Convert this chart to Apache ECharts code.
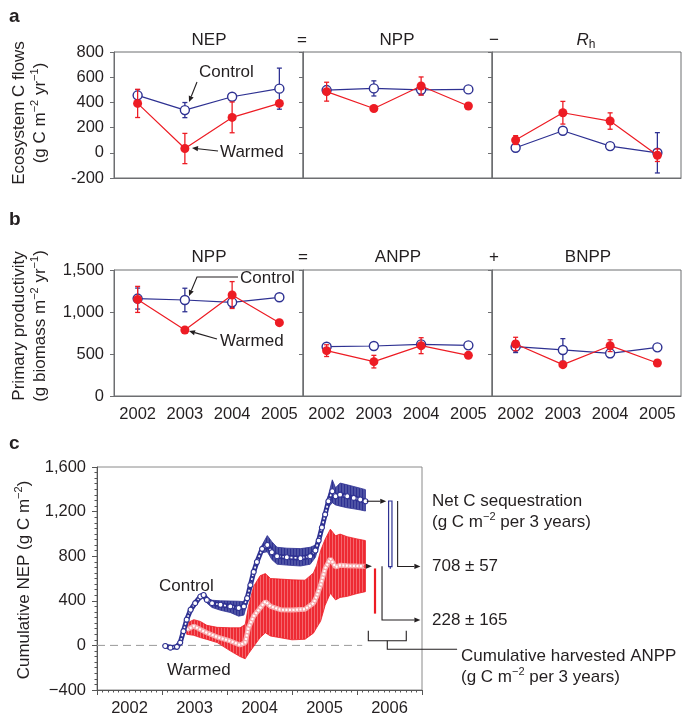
<!DOCTYPE html>
<html>
<head>
<meta charset="utf-8">
<title>Warming and ecosystem carbon</title>
<script src="https://cdn.jsdelivr.net/npm/echarts@6/dist/echarts.min.js"></script>
<style>
  html, body { margin: 0; padding: 0; background: #fff; }
  #chart { width: 694px; height: 717px; }
</style>
</head>
<body>
<div id="chart"></div>
<script>
// ---- data: panels a and b (annual values, control vs warmed) ----
var years = ['2002', '2003', '2004', '2005'];

var nepCtrl = [456, 339, 445, 509], nepCtrlErr = [45, 60, 0, 163];
var nepWarm = [392, 34, 281, 392], nepWarmErr = [112, 120, 122, 20];
var nppCtrl = [498, 511, 500, 503], nppCtrlErr = [30, 60, 40, 0];
var nppWarm = [485, 352, 530, 371], nppWarmErr = [75, 0, 72, 0];
var rhCtrl = [40, 175, 53, 0], rhCtrlErr = [28, 0, 0, 160];
var rhWarm = [101, 318, 252, -19], rhWarmErr = [35, 90, 65, 50];

var nppBCtrl = [1160, 1143, 1115, 1175], nppBCtrlErr = [125, 140, 60, 0];
var nppBWarm = [1150, 786, 1202, 873], nppBWarmErr = [155, 0, 160, 0];
var anppCtrl = [587, 595, 615, 603], anppCtrlErr = [15, 0, 20, 0];
var anppWarm = [540, 409, 599, 484], anppWarmErr = [70, 75, 95, 0];
var bnppCtrl = [587, 548, 508, 579], bnppCtrlErr = [70, 135, 50, 0];
var bnppWarm = [619, 373, 599, 393], bnppWarmErr = [80, 0, 70, 0];

// ---- data: panel c (cumulative NEP, g C m-2) ----
var cYears = ['2002', '2003', '2004', '2005', '2006'];

var ctrlT = [2003.05, 2003.13, 2003.23, 2003.28, 2003.33, 2003.38, 2003.44, 2003.51, 2003.59, 2003.64,
             2003.69, 2003.77, 2003.90, 2004.05, 2004.18, 2004.26, 2004.31, 2004.36, 2004.41, 2004.46,
             2004.54, 2004.62, 2004.69, 2004.77, 2004.92, 2005.13, 2005.28, 2005.36, 2005.41, 2005.46,
             2005.51, 2005.56, 2005.62, 2005.67, 2005.74, 2005.85, 2005.95, 2006.05, 2006.13];
var ctrlV  = [-5, -20, -13, 25, 128, 231, 320, 379, 438, 452,
              408, 379, 364, 350, 335, 350, 423, 541, 659, 748,
              866, 901, 836, 800, 791, 782, 800, 851, 940, 1057,
              1175, 1293, 1382, 1337, 1352, 1337, 1323, 1308, 1293];
var ctrlHi = [null, null, null, 35, 140, 245, 338, 398, 458, 470,
              428, 405, 400, 398, 396, 392, 440, 560, 680, 770,
              900, 985, 930, 880, 872, 868, 880, 900, 985, 1100,
              1220, 1345, 1485, 1414, 1456, 1440, 1425, 1410, 1397];
var ctrlLo = [null, null, null, 15, 115, 215, 300, 355, 415, 430,
              380, 340, 315, 295, 262, 272, 380, 520, 640, 725,
              830, 840, 770, 728, 720, 712, 728, 790, 890, 1010,
              1130, 1240, 1280, 1260, 1249, 1234, 1225, 1215, 1205];

var warmT  = [2003.38, 2003.49, 2003.59, 2003.69, 2003.85, 2004.05, 2004.20, 2004.28, 2004.33, 2004.41,
              2004.51, 2004.59, 2004.67, 2004.82, 2005.00, 2005.20, 2005.33, 2005.38, 2005.44, 2005.51,
              2005.59, 2005.67, 2005.74, 2005.85, 2006.00, 2006.13];
var warmV  = [140, 173, 142, 113, 75, 40, 4, 25, 157, 261,
              335, 394, 350, 320, 318, 325, 379, 440, 541, 689,
              777, 703, 718, 715, 712, 710];
var warmHi = [200, 231, 215, 180, 162, 158, 158, 187, 350, 530,
              625, 644, 600, 595, 588, 585, 650, 718, 850, 953,
              1042, 983, 998, 975, 955, 940];
var warmLo = [100, 90, 70, 54, 25, -49, -100, -120, -75, -10,
              70, 113, 84, 69, 50, 55, 110, 160, 217, 360,
              467, 408, 430, 440, 465, 482];

// harvested ANPP bars (top, bottom) and resulting net sequestration
var harvestCtrl = [1295, 706];
var harvestWarm = [690, 285];
var netSeq = [708, 228];

// ---- styles ----
var BLUE = '#2e3192', RED = '#ed1c24', INK = '#231f20', AXIS = '#6d6e71';
var FONT = '"Liberation Sans", Arial, Helvetica, sans-serif';

function stripes(c1, c2, w1, w2) {
  var cv = document.createElement('canvas');
  cv.width = w1 + w2; cv.height = 4;
  var ctx = cv.getContext('2d');
  ctx.fillStyle = c1; ctx.fillRect(0, 0, w1, 4);
  ctx.fillStyle = c2; ctx.fillRect(w1, 0, w2, 4);
  return cv;
}
var bluePat = stripes('#4d52a4', '#2e3192', 2, 1);
var redPat = stripes('#ee2a33', '#f4676d', 2, 1);

function arrowEls(pts, color, dash) {
  var n = pts.length, a = pts[n - 2], b = pts[n - 1];
  var ang = Math.atan2(b[1] - a[1], b[0] - a[0]), L = 6, W = 2.6;
  var bx = b[0] - L * Math.cos(ang), by = b[1] - L * Math.sin(ang);
  var line = pts.slice(0, n - 1).concat([[bx, by]]);
  return [
    { type: 'polyline', shape: { points: line }, style: { stroke: color, lineWidth: 1.1, fill: 'none', lineDash: dash || null } },
    { type: 'polygon', shape: { points: [b, [bx + W * Math.sin(ang), by - W * Math.cos(ang)], [bx - W * Math.sin(ang), by + W * Math.cos(ang)]] },
      style: { fill: color } }
  ];
}

// ---- grids and axes ----
var grids = [], xAxes = [], yAxes = [], series = [];
var lefts = [114, 303, 492];
[52, 270].forEach(function (top, row) {
  lefts.forEach(function (left, col) {
    grids.push({ left: left, top: top, width: 189, height: 126, show: true, borderColor: AXIS, borderWidth: 1 });
    var gi = grids.length - 1;
    xAxes.push({
      type: 'category', gridIndex: gi, data: years, boundaryGap: true,
      axisLine: { onZero: false, lineStyle: { color: AXIS } },
      axisTick: { alignWithLabel: true, length: 4, lineStyle: { color: AXIS } },
      axisLabel: { show: row === 1, interval: 0, margin: 10, fontSize: 16.5, color: INK, fontFamily: FONT },
      splitLine: { show: false }
    });
    yAxes.push({
      type: 'value', gridIndex: gi,
      min: row === 0 ? -200 : 0, max: row === 0 ? 800 : 1500, interval: row === 0 ? 200 : 500,
      axisLine: { show: true, onZero: false, lineStyle: { color: AXIS } },
      axisTick: { show: true, length: 4, lineStyle: { color: AXIS } },
      axisLabel: {
        show: col === 0, margin: 10, fontSize: 16.5, color: INK, fontFamily: FONT,
        formatter: function (v) { return v.toLocaleString('en-US'); }
      },
      splitLine: { show: false }
    });
  });
});

// panel c
grids.push({ left: 97, top: 467, width: 325, height: 226, show: true, borderColor: '#8a8a8a', borderWidth: 1 });
xAxes.push({
  type: 'value', gridIndex: 6, min: 2002, max: 2007, interval: 1, position: 'bottom',
  axisLine: { onZero: false, lineStyle: { color: '#555' } },
  axisTick: { length: 5, lineStyle: { color: '#555' } },
  minorTick: { show: true, splitNumber: 12, length: 2.5, lineStyle: { color: '#555' } },
  axisLabel: { show: false }, splitLine: { show: false }
});
xAxes.push({
  type: 'category', gridIndex: 6, data: cYears, boundaryGap: true, position: 'bottom', offset: 0,
  axisLine: { show: false, onZero: false }, axisTick: { show: false },
  axisLabel: { interval: 0, margin: 10, fontSize: 16.5, color: INK, fontFamily: FONT }
});
yAxes.push({
  type: 'value', gridIndex: 6, min: -400, max: 1600, interval: 400,
  axisLine: { show: true, onZero: false, lineStyle: { color: '#555' } },
  axisTick: { length: 5, lineStyle: { color: '#555' } },
  minorTick: { show: true, splitNumber: 8, length: 2.5, lineStyle: { color: '#555' } },
  axisLabel: {
    margin: 11, fontSize: 16.5, color: INK, fontFamily: FONT,
    formatter: function (v) { return v < 0 ? '\u2212' + Math.abs(v) : v.toLocaleString('en-US'); }
  },
  splitLine: { show: false }
});

// ---- series for panels a and b ----
function errSeries(ai, vals, errs, color, z) {
  var d = [];
  vals.forEach(function (v, i) { if (errs[i] > 0) d.push([i, v - errs[i], v + errs[i]]); });
  return {
    type: 'custom', xAxisIndex: ai, yAxisIndex: ai, z: z, data: d, encode: { x: 0, y: [1, 2] },
    renderItem: function (params, api) {
      var lo = api.coord([api.value(0), api.value(1)]);
      var hi = api.coord([api.value(0), api.value(2)]);
      var w = 2.5;
      function st() { return { stroke: color, lineWidth: 1.3 }; }
      return {
        type: 'group', children: [
          { type: 'line', shape: { x1: lo[0], y1: lo[1], x2: hi[0], y2: hi[1] }, style: st() },
          { type: 'line', shape: { x1: lo[0] - w, y1: lo[1], x2: lo[0] + w, y2: lo[1] }, style: st() },
          { type: 'line', shape: { x1: hi[0] - w, y1: hi[1], x2: hi[0] + w, y2: hi[1] }, style: st() }
        ]
      };
    }
  };
}
function panel(ai, ctrl, ctrlErr, warm, warmErr) {
  series.push(errSeries(ai, ctrl, ctrlErr, BLUE, 2));
  series.push({
    type: 'line', xAxisIndex: ai, yAxisIndex: ai, data: ctrl, z: 3,
    symbol: 'circle', symbolSize: 9, showAllSymbol: true,
    itemStyle: { color: '#fff', borderColor: BLUE, borderWidth: 1.4 },
    lineStyle: { color: BLUE, width: 1.2 }
  });
  series.push(errSeries(ai, warm, warmErr, RED, 4));
  series.push({
    type: 'line', xAxisIndex: ai, yAxisIndex: ai, data: warm, z: 5,
    symbol: 'circle', symbolSize: 9, showAllSymbol: true,
    itemStyle: { color: RED },
    lineStyle: { color: RED, width: 1.2 }
  });
}
panel(0, nepCtrl, nepCtrlErr, nepWarm, nepWarmErr);
panel(1, nppCtrl, nppCtrlErr, nppWarm, nppWarmErr);
panel(2, rhCtrl, rhCtrlErr, rhWarm, rhWarmErr);
panel(3, nppBCtrl, nppBCtrlErr, nppBWarm, nppBWarmErr);
panel(4, anppCtrl, anppCtrlErr, anppWarm, anppWarmErr);
panel(5, bnppCtrl, bnppCtrlErr, bnppWarm, bnppWarmErr);

// ---- series for panel c ----
function bandSeries(T, hi, lo, pat, edge, z) {
  return {
    type: 'custom', xAxisIndex: 6, yAxisIndex: 6, z: z, data: [[2004, 500]],
    renderItem: function (params, api) {
      var up = [], dn = [];
      T.forEach(function (t, i) {
        if (hi[i] != null) { up.push(api.coord([t, hi[i]])); dn.push(api.coord([t, lo[i]])); }
      });
      return {
        type: 'polygon', shape: { points: up.concat(dn.reverse()) },
        style: { fill: { image: pat, repeat: 'repeat' }, stroke: edge, lineWidth: 0.8 }
      };
    }
  };
}
var ctrlData = ctrlT.map(function (t, i) { return [t, ctrlV[i]]; });
var warmData = warmT.map(function (t, i) { return [t, warmV[i]]; });
var last = warmData[warmData.length - 1];

series.push({
  type: 'line', xAxisIndex: 6, yAxisIndex: 6, z: 2, symbol: 'none', silent: true,
  data: [[2002, 0], [2006.08, 0]],
  lineStyle: { color: '#9a9a9a', width: 1, type: [8, 5] }
});
series.push(bandSeries(warmT, warmHi, warmLo, redPat, RED, 3));
series.push({
  type: 'line', xAxisIndex: 6, yAxisIndex: 6, z: 4, symbol: 'none', data: warmData,
  lineStyle: { color: '#f7a9ac', width: 5 }
});
series.push({
  type: 'line', xAxisIndex: 6, yAxisIndex: 6, z: 5, symbol: 'none', data: warmData,
  lineStyle: { color: '#fff', width: 2.2, type: [2, 1.5] }
});
series.push({
  type: 'scatter', xAxisIndex: 6, yAxisIndex: 6, z: 5, data: [last], symbolSize: 4,
  itemStyle: { color: RED }
});
series.push(bandSeries(ctrlT, ctrlHi, ctrlLo, bluePat, BLUE, 6));
series.push({
  type: 'line', xAxisIndex: 6, yAxisIndex: 6, z: 7, symbol: 'none', data: ctrlData,
  lineStyle: { color: BLUE, width: 5 }
});
series.push({
  type: 'line', xAxisIndex: 6, yAxisIndex: 6, z: 8, symbol: 'none', data: ctrlData,
  lineStyle: { color: '#fff', width: 1.6, type: [2, 2] }
});
series.push({
  type: 'line', xAxisIndex: 6, yAxisIndex: 6, z: 9, data: ctrlData,
  symbol: 'circle', symbolSize: 5, showAllSymbol: true,
  itemStyle: { color: '#fff', borderColor: BLUE, borderWidth: 1.1 },
  lineStyle: { width: 0, opacity: 0 }
});

// harvested ANPP bars and brackets
series.push({
  type: 'custom', xAxisIndex: 6, yAxisIndex: 6, z: 10, clip: false, data: [[2006.5, 700]],
  renderItem: function (params, api) {
    var c = function (x, y) { return api.coord([x, y]); };
    var cEnd = ctrlData[ctrlData.length - 1];
    var kids = [];
    kids = kids.concat(arrowEls([c(cEnd[0] + 0.02, cEnd[1]), c(2006.45, cEnd[1])], INK));
    var b0 = c(2006.486, harvestCtrl[0]), b1 = c(2006.538, harvestCtrl[1]);
    kids.push({ type: 'rect', shape: { x: b0[0], y: b0[1], width: b1[0] - b0[0], height: b1[1] - b0[1] },
      style: { fill: '#fff', stroke: BLUE, lineWidth: 1.2 } });
    var t0 = c(2006.512, harvestCtrl[1]), t1 = c(2006.512, harvestCtrl[1] - 18);
    kids.push({ type: 'line', shape: { x1: t0[0], y1: t0[1], x2: t1[0], y2: t1[1] }, style: { stroke: BLUE, lineWidth: 1.2 } });
    kids = kids.concat(arrowEls([c(2006.625, harvestCtrl[0]), c(2006.625, netSeq[0]), c(2006.975, netSeq[0])], INK));
    kids = kids.concat(arrowEls([c(last[0] + 0.02, last[1]), c(2006.23, last[1])], INK, [1.5, 1.5]));
    var r0 = c(2006.277, harvestWarm[0]), r1 = c(2006.277, harvestWarm[1]);
    kids.push({ type: 'line', shape: { x1: r0[0], y1: r0[1], x2: r1[0], y2: r1[1] }, style: { stroke: RED, lineWidth: 2.2 } });
    kids = kids.concat(arrowEls([c(2006.385, last[1]), c(2006.385, netSeq[1]), c(2006.975, netSeq[1])], INK));
    kids.push({ type: 'polyline', shape: { points: [c(2006.174, 131), c(2006.174, 42), c(2006.758, 42), c(2006.758, 131)] },
      style: { stroke: INK, lineWidth: 1.1, fill: 'none' } });
    kids.push({ type: 'polyline', shape: { points: [c(2006.466, 42), c(2006.466, -35), c(2007.54, -35)] },
      style: { stroke: INK, lineWidth: 1.1, fill: 'none' } });
    return { type: 'group', children: kids };
  }
});

// ---- text and annotation graphics ----
function txt(x, y, text, extra) {
  var st = { text: text, fill: INK, fontSize: 17, fontFamily: FONT, align: 'left', verticalAlign: 'middle' };
  for (var k in extra) st[k] = extra[k];
  return { type: 'text', x: x, y: y, style: st, z: 50 };
}
var sup = { n: { fontSize: 17, fontFamily: FONT, lineHeight: 22 }, s: { fontSize: 11, fontFamily: FONT, lineHeight: 12, verticalAlign: 'top' } };
function rot(x, y, text) {
  var t = txt(x, y, text, { align: 'center', rich: sup });
  t.rotation = Math.PI / 2;
  return t;
}
var perYears = '{n|(g C m}{s|\u22122}{n| per 3 years)}';

var graphics = [
  txt(9, 17, 'a', { fontSize: 19, fontWeight: 'bold' }),
  txt(9, 220, 'b', { fontSize: 19, fontWeight: 'bold' }),
  txt(9, 444, 'c', { fontSize: 19, fontWeight: 'bold' }),

  txt(209, 40, 'NEP', { align: 'center' }),
  txt(302, 40, '=', { align: 'center' }),
  txt(397, 40, 'NPP', { align: 'center' }),
  txt(494, 40, '\u2212', { align: 'center' }),
  txt(586, 40, '{i|R}{b|h}', { align: 'center', rich: {
    i: { fontSize: 17, fontFamily: FONT, fontStyle: 'italic', lineHeight: 22 },
    b: { fontSize: 12, fontFamily: FONT, lineHeight: 14, verticalAlign: 'bottom' } } }),

  txt(209, 257, 'NPP', { align: 'center' }),
  txt(303, 257, '=', { align: 'center' }),
  txt(398, 257, 'ANPP', { align: 'center' }),
  txt(494, 257, '+', { align: 'center' }),
  txt(588, 257, 'BNPP', { align: 'center' }),

  rot(19, 113, '{n|Ecosystem C flows}'),
  rot(40, 113, '{n|(g C m}{s|\u22122}{n| yr}{s|\u22121}{n|)}'),
  rot(19, 326, '{n|Primary productivity}'),
  rot(40, 326, '{n|(g biomass m}{s|\u22122}{n| yr}{s|\u22121}{n|)}'),
  rot(24, 580, '{n|Cumulative NEP (g C m}{s|\u22122}{n|)}'),

  txt(199, 72, 'Control'),
  txt(220, 152, 'Warmed'),
  txt(240, 278, 'Control'),
  txt(220, 341, 'Warmed'),
  txt(159, 586, 'Control'),
  txt(167, 670, 'Warmed'),

  txt(432, 501, 'Net C sequestration'),
  txt(432, 522, perYears, { rich: sup }),
  txt(432, 566, '708 \u00b1 57'),
  txt(432, 620, '228 \u00b1 165'),
  txt(461, 656, 'Cumulative harvested ANPP'),
  txt(461, 677, perYears, { rich: sup })
];
[
  [[197, 82], [189, 102]],
  [[218, 151], [192, 148]],
  [[238, 277], [197, 277], [189, 296]],
  [[217, 339], [189, 331]]
].forEach(function (pts) {
  arrowEls(pts, INK).forEach(function (el) { el.z = 50; graphics.push(el); });
});

var chart = echarts.init(document.getElementById('chart'), null, { renderer: 'canvas' });
chart.setOption({
  animation: false,
  backgroundColor: '#fff',
  textStyle: { fontFamily: FONT },
  grid: grids,
  xAxis: xAxes,
  yAxis: yAxes,
  series: series,
  graphic: graphics
});
</script>
</body>
</html>
